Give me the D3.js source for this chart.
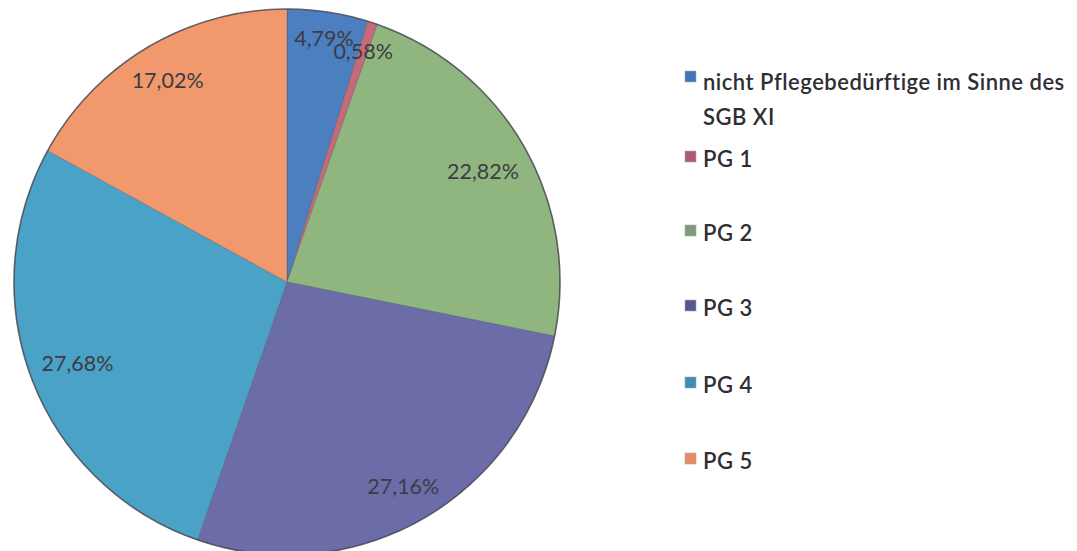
<!DOCTYPE html>
<html><head><meta charset="utf-8">
<script src="https://cdn.jsdelivr.net/npm/d3@7"></script>
<style>html,body{margin:0;padding:0;background:#fff;}svg{display:block;}</style>
</head><body>
<svg id="chart" width="1077" height="551"></svg>
<script>
const categories = ["nicht Pflegebedürftige im Sinne des SGB XI", "PG 1", "PG 2", "PG 3", "PG 4", "PG 5"];
const legendLines = [["nicht Pflegebedürftige im Sinne des", "SGB XI"], ["PG 1"], ["PG 2"], ["PG 3"], ["PG 4"], ["PG 5"]];
const values = [4.79, 0.58, 22.82, 27.16, 27.68, 17.02];
const sliceColors = ["#4b7fbf", "#c46a78", "#8fb67e", "#6c6ca8", "#4aa2c6", "#f1986c"];
const legendColors = ["#3f73bd", "#b05a70", "#7f9a7a", "#555890", "#3d8fb8", "#e88a64"];

const svg = d3.select("#chart");
const cx = 287, cy = 282, R = 273;
const g = svg.append("g").attr("transform", `translate(${cx},${cy})`);

const pie = d3.pie().sort(null).value(d => d);
const arcs = pie(values);
const arc = d3.arc().innerRadius(0).outerRadius(R);

g.selectAll("path.slice").data(arcs).join("path")
  .attr("class", "slice")
  .attr("d", arc)
  .attr("fill", (d, i) => sliceColors[i])
  .attr("stroke", "rgba(70,70,80,0.3)")
  .attr("stroke-width", 1);

g.append("circle").attr("r", R).attr("fill", "none")
  .attr("stroke", "#4a4a55").attr("stroke-width", 1.6).attr("opacity", 0.8);

const fmt = v => v.toFixed(2).replace(".", ",") + "%";
const pad = 12;
arcs.forEach((d, i) => {
  const t = g.append("text").text(fmt(values[i]))
    .attr("font-family", "Lato, 'Open Sans', sans-serif")
    .attr("font-size", 21.5)
    .attr("fill", "#3c3c44")
    .attr("text-anchor", "middle")
    .attr("dominant-baseline", "central");
  const w = t.node().getComputedTextLength();
  const h = 16;
  const a = (d.startAngle + d.endAngle) / 2;
  const dx = Math.sin(a), dy = -Math.cos(a);
  let lo = 0, hi = R;
  for (let k = 0; k < 40; k++) {
    const r = (lo + hi) / 2;
    const x = r * dx, y = r * dy;
    const ok = [[-1,-1],[1,-1],[-1,1],[1,1]].every(([sx, sy]) =>
      Math.hypot(x + sx * w / 2, y + sy * h / 2) <= R - pad);
    if (ok) lo = r; else hi = r;
  }
  t.attr("x", lo * dx).attr("y", lo * dy);
});

const legend = svg.append("g").attr("transform", "translate(685,0)");
const rowY = [81, 158, 232, 307, 384, 460];
legendLines.forEach((lines, i) => {
  const item = legend.append("g").attr("transform", `translate(0,${rowY[i]})`);
  item.append("rect").attr("x", 0).attr("y", i === 0 ? -10 : -7).attr("width", 11).attr("height", 11)
    .attr("fill", legendColors[i]).attr("stroke", "#aaa").attr("stroke-width", 0.6);
  lines.forEach((ln, j) => {
    item.append("text").text(ln)
      .attr("x", 18).attr("y", j * 35)
      .attr("dominant-baseline", "central")
      .attr("font-family", "Lato, 'Open Sans', sans-serif")
      .attr("font-weight", 600)
      .attr("font-size", 22)
      .attr("letter-spacing", 0.5)
      .attr("fill", "#2e2e33");
  });
});
</script>
</body></html>
